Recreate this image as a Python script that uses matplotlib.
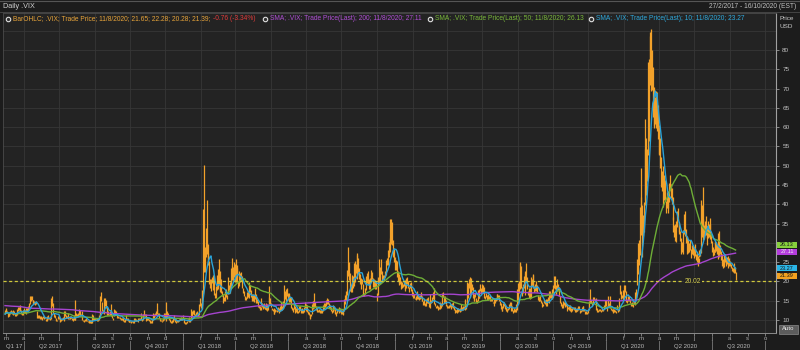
import numpy as np
import pandas as pd
import matplotlib
matplotlib.use("Agg")
import matplotlib.pyplot as plt
import matplotlib.dates as mdates
from matplotlib.lines import Line2D
from matplotlib.patches import Rectangle
from matplotlib.transforms import blended_transform_factory

plt.rcParams['font.family'] = ['Liberation Sans', 'DejaVu Sans']

# ---------------- DATA (daily .VIX) ----------------
# closes before the visible window (only used to seed the moving averages)
pre_close = [14.4, 14.7, 15.0, 14.2, 15.6, 15.5, 16.3, 15.2, 15.8, 14.0, 13.9, 13.4, 13.1, 14.2,
             14.2, 14.2, 13.6, 13.5, 13.7, 14.1, 14.6, 17.0, 21.0, 20.5, 19.4, 19.1, 19.5, 18.4, 21.2, 17.3, 25.8, 23.9, 18.8, 16.6, 15.6, 15.2,
             14.8, 15.6, 15.0, 14.5, 13.2, 12.7, 12.8, 13.6, 12.8, 12.7, 12.4, 12.0, 12.4, 12.0, 12.9, 13.1, 12.8, 12.7, 12.8, 11.9,
             12.4, 13.4, 12.9, 12.4, 11.4, 11.5, 11.5, 11.7, 11.8, 12.1, 11.8, 12.6, 12.2, 11.9, 11.4, 11.3, 12.2, 13.2, 12.4, 12.2, 13.1, 12.6, 11.9,
             13.5, 12.0, 12.0, 12.0, 12.5, 17.5, 15.2, 17.9, 18.1, 15.6, 16.1, 15.5, 13.3, 12.0, 12.3, 14.5, 12.9, 13.1, 12.4, 14.0, 13.3,
             13.6, 13.0, 13.0, 12.8, 13.5, 13.3, 15.4, 15.9, 16.7, 16.1, 16.2, 15.3, 13.7, 13.4, 13.3, 13.2, 14.2, 15.4, 16.2, 16.2, 17.1,
             18.6, 19.3, 22.1, 22.5, 18.7, 14.4, 14.4, 14.7, 14.2, 14.5, 13.4, 13.7, 14.7, 13.3, 12.8, 12.3, 12.3, 12.4, 12.3, 12.9, 13.3,
             14.1, 14.1, 12.9, 12.1, 12.2, 11.8, 11.8, 12.6, 12.6, 13.2, 12.8, 12.2, 11.7, 11.4, 11.3, 11.4, 11.4, 12.0, 12.2, 14.0, 14.0,
             12.9, 11.9, 11.7, 11.3, 11.6, 11.5, 11.3, 11.5, 10.7, 11.2, 11.2, 12.5, 11.7, 11.5, 11.8, 11.1, 10.8, 11.3, 11.9, 12.0,
             12.5, 11.8, 11.9, 11.0, 11.4, 11.3, 11.4, 11.5, 11.0, 10.9, 10.7, 12.0, 11.5, 11.6, 11.7, 11.7, 11.5]

# first month of each year block
year_first_month = {2017: 2, 2018: 1, 2019: 1, 2020: 1}
first_day = "2017-02-27"
last_day = "2020-08-11"

close_2017 = [
    [12.09, 12.92],
    [12.54, 11.81, 10.96, 11.24, 11.45, 11.86, 12.30, 11.66, 11.35, 12.30, 11.63, 11.21, 11.28, 11.34, 12.47, 12.81, 13.12, 12.96, 12.50, 11.53, 11.42, 11.54, 12.37],
    [12.38, 11.79, 12.89, 12.39, 12.87, 14.05, 15.07, 15.77, 15.96, 14.66, 14.42, 14.93, 14.15, 14.63, 10.84, 11.10, 10.85, 10.36, 10.82],
    [10.11, 10.59, 10.68, 10.46, 10.57, 9.77, 10.96, 10.21, 10.60, 10.40, 10.42, 10.65, 15.59, 14.66, 12.04, 10.93, 10.72, 10.02, 9.99, 9.81, 10.38, 10.41],
    [9.89, 9.75, 10.07, 10.45, 10.39, 10.16, 10.70, 11.46, 10.42, 10.64, 10.90, 10.38, 10.37, 10.86, 10.75, 10.48, 10.02, 9.90, 11.06, 10.03, 11.44, 11.18],
    [11.22, 11.07, 12.54, 11.19, 11.11, 10.89, 10.30, 9.90, 9.51, 9.82, 9.89, 9.79, 9.58, 9.36, 9.43, 9.43, 9.60, 10.11, 10.29, 10.26],
    [10.09, 10.28, 9.95, 10.03, 9.93, 10.96, 11.11, 16.04, 15.51, 12.33, 12.04, 11.74, 15.55, 14.26, 13.19, 11.35, 12.25, 11.28, 11.28, 11.32, 11.70, 11.22, 10.59],
    [10.13, 12.23, 11.63, 11.55, 12.12, 10.73, 10.58, 10.50, 10.44, 10.17, 10.15, 10.18, 9.78, 9.67, 9.59, 10.21, 10.17, 9.87, 9.55, 9.51],
    [9.45, 9.51, 9.63, 9.19, 9.65, 10.33, 10.08, 9.85, 9.91, 9.61, 10.31, 10.31, 10.07, 10.05, 9.97, 11.07, 11.16, 11.23, 11.30, 9.80, 10.50, 10.18],
    [10.20, 9.93, 9.14, 9.40, 9.89, 9.78, 10.50, 11.29, 11.50, 11.59, 13.13, 11.76, 11.43, 10.65, 9.73, 9.88, 9.67, 9.87, 10.03, 10.70, 11.28],
    [11.43, 11.68, 11.33, 11.02, 10.16, 9.58, 9.34, 9.34, 10.18, 10.49, 9.42, 9.53, 10.03, 9.72, 9.62, 9.90, 10.25, 10.47, 10.18, 11.04],
]
high_2017 = [
    [12.5, 13.1],
    [12.9, 12.2, 11.9, 11.9, 11.6, 12.2, 12.6, 12.3, 11.8, 12.6, 12.4, 11.7, 11.7, 11.7, 12.9, 13.4, 13.3, 13.3, 13.8, 12.6, 11.9, 11.8, 12.6],
    [13.0, 12.6, 13.0, 13.0, 13.6, 14.3, 16.1, 16.1, 16.3, 15.2, 15.2, 15.0, 14.7, 14.8, 12.3, 11.3, 11.2, 10.9, 10.9],
    [10.6, 10.7, 11.1, 11.0, 10.8, 10.2, 11.0, 10.6, 11.3, 10.6, 10.5, 10.8, 15.8, 16.3, 14.4, 11.8, 11.2, 10.5, 10.3, 10.1, 11.0, 11.2],
    [10.4, 10.0, 10.3, 10.6, 10.7, 10.5, 12.2, 12.2, 11.2, 11.1, 11.7, 11.0, 10.6, 10.9, 11.1, 10.8, 10.4, 10.4, 11.3, 10.9, 15.2, 11.9],
    [11.4, 11.8, 12.9, 12.5, 11.6, 12.3, 10.9, 10.1, 9.9, 10.2, 10.4, 10.0, 9.8, 10.0, 9.9, 9.9, 9.8, 11.4, 11.3, 10.6],
    [10.5, 10.6, 10.4, 10.4, 10.2, 11.2, 12.3, 16.1, 17.3, 14.7, 12.6, 12.2, 15.6, 15.7, 15.1, 13.3, 12.4, 12.3, 11.6, 12.3, 14.1, 11.8, 11.3],
    [10.6, 12.8, 12.6, 11.9, 12.4, 11.4, 10.9, 10.7, 10.8, 10.5, 10.4, 10.4, 10.5, 10.1, 10.2, 11.3, 10.6, 10.4, 9.9, 9.7],
    [9.7, 9.6, 9.8, 9.6, 10.1, 10.6, 10.4, 10.3, 10.1, 9.9, 10.5, 10.6, 10.4, 11.7, 10.3, 11.3, 11.4, 12.5, 11.6, 11.4, 10.8, 10.6],
    [10.6, 10.3, 9.9, 9.7, 10.2, 10.1, 11.8, 11.6, 11.9, 12.4, 14.5, 12.9, 11.9, 11.7, 10.4, 10.0, 9.7, 10.1, 10.5, 11.7, 11.8],
    [14.6, 11.8, 12.2, 11.8, 10.9, 10.2, 9.7, 10.0, 10.5, 11.2, 10.6, 9.7, 10.2, 10.1, 9.9, 10.3, 10.6, 10.7, 10.6, 11.3],
]
low_2017 = [
    [11.5, 11.8],
    [11.7, 11.7, 10.8, 11.0, 11.1, 11.4, 11.7, 11.5, 11.2, 11.4, 11.5, 10.9, 11.1, 11.2, 11.2, 12.3, 12.5, 12.2, 12.3, 11.5, 11.3, 11.3, 11.8],
    [11.9, 11.7, 11.6, 12.1, 12.2, 12.7, 14.0, 14.8, 15.2, 14.3, 14.2, 14.2, 13.9, 14.0, 10.6, 10.6, 10.6, 10.3, 10.3],
    [10.0, 10.3, 10.4, 10.2, 10.4, 9.6, 9.6, 10.1, 10.3, 10.2, 10.1, 10.3, 10.7, 13.6, 11.8, 10.8, 10.6, 10.0, 9.8, 9.6, 10.2, 10.2],
    [9.7, 9.4, 9.8, 10.1, 10.2, 10.0, 9.8, 11.0, 10.4, 10.4, 10.7, 10.3, 10.3, 10.3, 10.6, 10.4, 9.9, 9.8, 10.0, 10.0, 10.0, 10.9],
    [10.9, 11.0, 11.3, 11.1, 11.0, 10.8, 10.0, 9.7, 9.5, 9.6, 9.7, 9.6, 9.5, 9.3, 9.3, 9.2, 9.3, 9.2, 10.1, 10.1],
    [10.0, 10.2, 9.9, 9.7, 9.8, 9.9, 10.8, 11.2, 14.8, 12.3, 11.7, 11.4, 11.7, 13.7, 13.1, 11.3, 11.2, 11.2, 11.2, 11.2, 11.3, 11.1, 10.5],
    [10.0, 10.9, 11.3, 11.2, 11.4, 10.6, 10.4, 10.4, 10.3, 10.0, 10.0, 10.0, 9.7, 9.5, 9.5, 9.9, 9.9, 9.6, 9.5, 9.4],
    [9.4, 9.2, 9.4, 9.1, 9.2, 9.9, 9.8, 9.8, 9.7, 9.5, 9.9, 10.1, 9.9, 9.9, 9.8, 10.0, 10.8, 10.9, 10.9, 9.6, 10.1, 10.1],
    [9.9, 9.6, 9.1, 9.2, 9.3, 9.6, 9.9, 10.5, 11.1, 11.3, 11.9, 11.6, 11.3, 10.4, 9.6, 9.6, 9.5, 9.6, 9.7, 10.0, 10.6],
    [9.7, 10.9, 10.8, 10.9, 10.1, 9.5, 9.3, 9.2, 9.5, 10.1, 9.4, 9.3, 9.6, 9.5, 9.4, 9.6, 10.0, 10.1, 10.1, 10.3],
]

close_2018 = [
    [9.77, 9.15, 9.22, 9.22, 9.52, 10.08, 9.82, 9.88, 10.16, 11.66, 11.91, 12.22, 11.27, 11.03, 11.10, 11.47, 11.58, 11.08, 13.84, 14.79, 13.54],
    [13.47, 17.31, 37.32, 29.98, 27.73, 33.46, 29.06, 25.61, 24.97, 19.26, 19.13, 19.46, 20.60, 20.02, 18.72, 16.49, 15.80, 18.59, 19.85],
    [22.47, 19.59, 18.73, 18.36, 17.76, 16.54, 14.64, 15.78, 16.35, 17.23, 16.59, 15.80, 19.02, 18.20, 17.86, 23.34, 24.87, 21.03, 22.50, 22.87, 19.97],
    [23.62, 21.10, 20.06, 18.94, 21.49, 21.77, 20.47, 20.24, 18.49, 17.41, 16.56, 15.25, 15.60, 15.96, 16.88, 16.34, 18.02, 17.84, 16.24, 15.41, 15.93],
    [15.49, 15.97, 15.90, 14.77, 14.75, 14.71, 13.42, 13.23, 12.65, 12.93, 14.63, 13.42, 13.43, 13.42, 13.08, 13.22, 12.58, 12.53, 13.22, 17.02, 14.94, 15.43],
    [13.46, 12.74, 12.40, 11.64, 12.13, 12.18, 12.35, 12.34, 12.94, 12.12, 11.98, 12.31, 13.35, 12.79, 14.64, 13.77, 17.33, 15.92, 17.91, 16.85, 16.09],
    [15.60, 16.14, 14.97, 13.37, 12.69, 12.64, 13.63, 12.58, 12.18, 12.83, 12.06, 12.10, 12.87, 12.86, 12.62, 12.41, 12.29, 12.14, 13.03, 14.26, 12.83],
    [13.15, 12.19, 11.64, 11.27, 10.93, 10.85, 11.27, 13.16, 14.78, 13.31, 14.64, 13.45, 12.64, 12.49, 12.86, 12.25, 12.41, 11.99, 12.16, 12.50, 12.25, 13.53, 12.86],
    [12.91, 13.91, 14.65, 14.88, 14.16, 13.22, 13.14, 12.37, 12.07, 13.68, 12.79, 11.75, 11.80, 11.68, 12.20, 12.42, 12.89, 12.41, 12.12],
    [12.00, 12.05, 11.61, 14.22, 14.82, 15.69, 15.95, 22.96, 24.98, 21.31, 21.30, 17.62, 17.40, 20.06, 19.89, 19.64, 20.71, 25.23, 24.22, 24.16, 24.70, 23.35, 21.23],
    [19.34, 19.51, 19.96, 19.91, 16.36, 16.72, 17.36, 20.45, 20.02, 21.25, 19.98, 18.14, 20.10, 22.48, 20.80, 21.52, 18.90, 19.02, 18.49, 18.79, 18.07],
    [16.44, 20.74, 21.19, 23.23, 22.64, 21.76, 21.46, 20.65, 21.63, 24.52, 25.58, 25.58, 28.38, 30.11, 36.07, 30.41, 29.96, 28.34, 25.42],
]
high_2018 = [
    [10.4, 9.7, 9.5, 9.4, 9.8, 10.3, 10.8, 10.1, 10.3, 12.8, 12.3, 12.5, 12.6, 11.6, 11.4, 12.1, 12.3, 11.6, 14.0, 15.8, 14.3],
    [14.3, 17.8, 38.8, 50.3, 28.9, 33.8, 41.1, 29.6, 27.4, 25.2, 20.5, 20.7, 21.1, 21.6, 21.6, 18.2, 17.1, 18.7, 21.6],
    [23.2, 25.7, 22.6, 19.0, 20.6, 17.4, 16.6, 16.0, 17.6, 17.9, 17.4, 16.5, 21.1, 19.0, 19.7, 23.5, 26.1, 24.0, 23.7, 25.0, 24.6],
    [25.7, 23.4, 24.2, 20.0, 22.6, 22.2, 22.4, 21.3, 20.2, 18.3, 17.4, 16.1, 15.9, 16.4, 17.2, 17.4, 19.8, 19.0, 17.8, 16.6, 16.5],
    [16.8, 16.5, 18.2, 16.8, 15.1, 15.3, 14.9, 13.9, 13.5, 13.3, 15.6, 14.4, 14.0, 14.4, 13.4, 13.7, 14.5, 14.2, 13.8, 18.8, 16.0, 15.7],
    [14.4, 13.2, 12.9, 12.4, 13.1, 12.7, 12.6, 12.6, 13.4, 12.9, 13.2, 13.5, 14.6, 13.5, 15.0, 14.6, 19.0, 17.4, 18.0, 18.3, 16.9],
    [17.1, 16.7, 15.9, 15.9, 13.4, 13.0, 14.4, 13.5, 12.6, 13.0, 13.2, 12.4, 13.5, 13.7, 13.5, 12.7, 13.0, 12.5, 13.4, 14.6, 14.2],
    [13.6, 13.8, 12.3, 12.0, 11.4, 11.3, 11.6, 14.0, 15.0, 15.0, 16.9, 14.6, 13.6, 12.7, 13.0, 12.6, 12.9, 12.6, 12.5, 12.6, 12.6, 13.9, 14.3],
    [13.9, 14.4, 15.2, 15.6, 15.5, 14.5, 13.9, 13.3, 12.5, 13.8, 13.7, 12.7, 12.5, 12.1, 12.9, 12.9, 13.3, 13.2, 12.5],
    [12.6, 12.8, 12.0, 15.4, 16.5, 17.4, 16.7, 23.0, 28.8, 25.0, 22.2, 21.0, 19.1, 21.7, 21.5, 21.1, 24.7, 25.2, 24.6, 27.4, 26.9, 26.0, 23.4],
    [21.9, 20.8, 20.5, 20.6, 19.2, 17.1, 18.4, 20.9, 21.3, 22.1, 22.6, 20.5, 20.8, 22.9, 21.6, 22.4, 20.9, 20.5, 20.4, 19.7, 19.3],
    [17.0, 21.0, 25.9, 23.8, 25.9, 22.6, 21.6, 21.6, 22.7, 25.5, 26.1, 28.0, 30.3, 31.2, 36.2, 36.1, 35.4, 30.6, 28.5],
]
low_2018 = [
    [9.5, 9.1, 9.0, 8.9, 9.1, 9.6, 9.5, 9.5, 9.8, 10.2, 10.7, 11.5, 11.3, 10.9, 10.9, 11.0, 11.4, 10.9, 11.2, 13.7, 13.0],
    [12.8, 13.9, 16.8, 22.4, 22.3, 26.3, 27.2, 24.7, 24.3, 19.2, 18.2, 17.5, 19.6, 17.7, 17.9, 16.4, 15.8, 15.6, 17.8],
    [18.1, 19.3, 17.3, 17.4, 17.0, 16.3, 14.5, 14.8, 15.0, 16.1, 16.0, 15.3, 16.6, 17.8, 17.0, 18.4, 21.3, 20.3, 19.9, 21.0, 19.8],
    [19.8, 21.0, 19.8, 18.3, 18.8, 19.8, 20.1, 20.2, 18.2, 17.1, 16.1, 15.2, 15.2, 15.6, 15.8, 16.0, 15.8, 17.3, 16.0, 15.2, 15.0],
    [15.0, 14.6, 15.3, 14.6, 14.5, 14.3, 13.3, 13.1, 12.6, 12.6, 13.7, 13.3, 12.9, 13.0, 12.8, 12.7, 12.5, 12.3, 12.5, 14.0, 14.4, 14.0],
    [13.3, 12.5, 12.3, 11.6, 11.6, 12.0, 12.2, 12.1, 12.2, 12.0, 11.7, 12.2, 12.6, 12.6, 13.2, 13.6, 14.4, 15.3, 15.0, 16.2, 15.2],
    [15.4, 14.6, 14.6, 13.0, 12.5, 12.1, 12.8, 12.4, 11.9, 12.1, 11.9, 11.8, 12.1, 12.6, 12.6, 11.9, 11.9, 11.9, 12.0, 13.0, 12.7],
    [12.3, 12.1, 11.6, 11.2, 10.2, 10.6, 10.9, 11.6, 12.9, 13.2, 13.1, 13.4, 12.5, 12.3, 12.1, 12.0, 12.1, 11.9, 11.8, 12.1, 11.9, 12.2, 12.8],
    [12.7, 13.3, 13.6, 14.1, 14.0, 13.2, 12.9, 12.3, 11.8, 12.0, 12.5, 11.7, 11.5, 11.1, 11.9, 12.2, 11.9, 12.0, 11.6],
    [11.6, 11.6, 11.3, 12.4, 14.1, 15.2, 15.3, 16.4, 21.3, 20.3, 20.3, 17.5, 17.3, 17.3, 18.3, 18.9, 19.5, 19.8, 22.1, 21.7, 20.5, 22.1, 20.7],
    [19.2, 17.9, 19.5, 19.2, 16.3, 16.2, 16.6, 17.7, 19.3, 19.5, 19.4, 18.0, 18.1, 20.0, 20.3, 20.6, 18.6, 18.5, 18.1, 18.4, 18.0],
    [15.0, 16.4, 19.6, 19.4, 21.9, 19.9, 20.5, 20.2, 21.1, 21.6, 24.3, 24.3, 26.2, 27.6, 29.6, 29.6, 29.3, 26.4, 25.0],
]

close_2019 = [
    [23.22, 25.45, 21.38, 21.40, 20.47, 19.98, 19.50, 18.19, 19.07, 18.60, 19.04, 18.06, 17.80, 20.80, 19.52, 18.89, 17.42, 18.87, 19.13, 17.66, 16.57],
    [16.14, 15.73, 15.57, 15.38, 16.37, 15.72, 15.97, 15.43, 16.22, 16.22, 14.91, 14.88, 14.02, 14.46, 13.51, 14.85, 14.85, 14.70, 14.78],
    [13.57, 14.63, 14.74, 15.74, 16.59, 16.05, 14.33, 13.77, 13.41, 13.50, 12.88, 13.10, 13.56, 13.91, 13.63, 16.48, 16.33, 14.68, 15.15, 14.43, 13.71],
    [13.40, 13.36, 13.74, 13.58, 12.82, 13.18, 14.28, 13.30, 13.02, 12.01, 12.32, 12.18, 12.60, 12.09, 12.42, 12.28, 13.14, 13.25, 12.73, 13.11, 13.12],
    [14.80, 14.42, 12.87, 15.44, 19.32, 19.40, 19.10, 16.04, 20.55, 18.06, 16.44, 15.29, 15.96, 16.31, 14.95, 14.75, 16.92, 15.85, 17.50, 17.90, 17.30, 18.71],
    [18.86, 16.97, 16.09, 15.93, 16.30, 15.94, 15.99, 15.91, 15.82, 15.28, 15.35, 15.15, 14.33, 14.75, 15.40, 15.26, 16.28, 16.21, 15.82, 15.08],
    [14.06, 12.93, 12.57, 13.28, 13.96, 14.10, 13.03, 12.93, 12.39, 12.68, 12.86, 13.97, 13.53, 14.45, 13.53, 12.61, 12.07, 12.74, 12.16, 12.83, 13.94, 16.12],
    [17.87, 17.61, 24.59, 20.17, 19.49, 16.91, 17.97, 21.09, 17.52, 22.10, 21.18, 18.47, 16.88, 17.50, 15.80, 16.68, 19.87, 19.32, 20.31, 19.35, 17.88, 18.98],
    [19.66, 17.33, 15.82, 15.00, 15.27, 15.20, 14.61, 14.22, 13.74, 14.67, 14.44, 13.95, 14.05, 15.32, 14.91, 17.05, 15.96, 16.07, 17.22, 16.24],
    [18.56, 20.56, 19.12, 17.04, 17.86, 20.28, 18.64, 17.57, 15.58, 14.57, 13.54, 13.68, 13.79, 14.25, 14.00, 14.46, 14.01, 13.71, 12.65, 13.11, 13.20, 12.33, 13.22],
    [12.30, 12.83, 13.10, 12.62, 12.73, 12.07, 12.69, 12.68, 13.00, 13.05, 12.05, 12.46, 12.86, 12.78, 12.78, 12.34, 11.87, 11.54, 11.75, 12.62],
    [14.91, 15.96, 14.80, 14.52, 13.62, 15.86, 15.68, 14.99, 13.94, 12.63, 12.14, 12.29, 12.58, 12.50, 12.51, 12.61, 12.67, 12.65, 13.43, 14.82, 13.78],
]
high_2019 = [
    [26.2, 25.5, 25.4, 22.8, 22.0, 21.5, 21.1, 20.0, 19.9, 19.4, 19.9, 20.4, 18.5, 20.8, 21.2, 20.2, 18.5, 19.6, 19.6, 19.7, 18.0],
    [17.2, 16.6, 15.8, 16.2, 17.6, 17.1, 16.3, 16.3, 16.4, 17.2, 16.2, 15.8, 14.8, 15.3, 14.3, 15.3, 15.7, 15.9, 15.2],
    [14.6, 16.6, 15.1, 15.9, 17.2, 18.2, 16.0, 14.3, 13.7, 13.8, 13.5, 13.4, 14.2, 14.6, 14.3, 17.1, 17.3, 16.1, 16.1, 15.2, 14.2],
    [13.9, 13.5, 13.8, 14.0, 13.3, 14.0, 14.5, 14.6, 13.7, 12.8, 12.6, 12.6, 13.0, 13.0, 12.9, 13.0, 13.3, 14.0, 13.4, 13.5, 13.7],
    [15.1, 15.4, 14.2, 19.9, 19.6, 20.5, 21.0, 20.6, 20.8, 19.4, 18.5, 16.1, 16.7, 17.1, 15.6, 15.2, 17.7, 16.9, 17.9, 19.2, 18.4, 19.2],
    [19.0, 18.6, 17.3, 16.3, 16.9, 16.4, 16.6, 16.2, 16.4, 15.9, 15.4, 15.6, 14.6, 15.4, 15.5, 15.5, 16.6, 16.7, 16.4, 16.5],
    [14.8, 14.3, 12.9, 13.7, 14.4, 14.6, 14.2, 13.3, 12.9, 12.9, 13.2, 14.2, 14.6, 14.6, 14.3, 13.5, 12.5, 13.1, 12.9, 13.0, 14.1, 17.9],
    [19.5, 20.0, 25.0, 24.8, 24.1, 18.6, 19.3, 21.5, 22.2, 22.6, 24.8, 21.1, 17.6, 18.2, 17.0, 18.2, 21.0, 20.6, 21.6, 21.8, 18.9, 19.3],
    [20.2, 19.1, 16.4, 15.9, 16.0, 16.2, 15.1, 14.6, 14.1, 15.1, 15.1, 15.5, 14.3, 15.4, 16.0, 17.5, 17.5, 16.8, 17.9, 16.9],
    [19.0, 21.5, 21.5, 19.1, 18.4, 20.5, 19.4, 18.6, 16.2, 15.6, 14.7, 14.1, 14.1, 14.9, 14.6, 14.7, 14.4, 14.0, 14.0, 13.3, 13.5, 13.7, 13.9],
    [13.2, 13.0, 13.3, 13.4, 13.3, 12.8, 13.1, 12.9, 13.6, 13.6, 12.6, 12.6, 13.3, 13.6, 13.5, 12.9, 12.2, 12.2, 12.0, 12.7],
    [15.0, 17.9, 15.8, 15.1, 14.6, 15.9, 16.0, 15.4, 15.6, 14.2, 13.1, 12.6, 12.8, 12.9, 12.6, 12.7, 13.1, 12.8, 13.8, 15.1, 15.1],
]
low_2019 = [
    [22.9, 23.0, 21.0, 20.2, 19.5, 19.1, 19.3, 18.1, 18.3, 18.5, 18.7, 17.9, 17.4, 18.4, 19.2, 18.4, 17.3, 18.2, 18.5, 17.5, 16.3],
    [15.7, 15.6, 15.3, 15.1, 15.5, 15.7, 15.5, 15.2, 15.3, 15.6, 14.8, 14.8, 13.9, 13.8, 13.5, 13.5, 14.3, 14.3, 14.3],
    [13.3, 13.0, 14.4, 14.6, 15.4, 15.7, 14.2, 13.6, 13.1, 13.1, 12.6, 12.8, 12.8, 13.4, 13.1, 13.5, 15.9, 14.4, 14.4, 14.2, 13.5],
    [13.1, 13.1, 13.2, 13.4, 12.8, 13.0, 13.4, 13.2, 12.6, 11.9, 12.0, 12.0, 11.9, 12.0, 12.3, 12.1, 12.4, 13.0, 12.6, 12.6, 12.9],
    [12.6, 14.0, 12.7, 14.2, 15.8, 18.4, 18.0, 15.9, 16.9, 17.8, 15.7, 14.9, 14.9, 15.9, 14.7, 14.4, 14.9, 15.6, 15.7, 17.4, 16.8, 17.2],
    [17.0, 16.8, 15.7, 15.5, 15.9, 15.1, 15.2, 15.4, 14.9, 15.1, 14.9, 14.9, 14.3, 13.6, 14.4, 15.0, 15.1, 15.8, 15.6, 14.9],
    [13.8, 12.9, 12.2, 12.3, 13.2, 13.6, 12.9, 12.4, 12.0, 12.2, 12.6, 12.7, 13.4, 12.4, 13.4, 12.2, 11.7, 12.0, 12.0, 12.1, 13.1, 12.6],
    [14.5, 16.9, 17.9, 19.3, 18.4, 16.3, 16.9, 18.2, 16.4, 18.5, 20.0, 18.1, 16.5, 16.7, 15.6, 15.3, 15.8, 18.7, 18.3, 18.7, 17.3, 17.5],
    [17.4, 17.3, 15.1, 14.8, 15.0, 14.9, 14.4, 13.4, 13.6, 14.4, 14.0, 13.9, 13.6, 13.7, 14.8, 14.5, 15.8, 15.6, 15.5, 16.1],
    [16.0, 18.4, 17.9, 16.8, 16.8, 17.5, 17.7, 16.3, 15.4, 14.5, 13.5, 13.1, 13.0, 13.7, 13.9, 13.4, 13.6, 13.3, 12.4, 12.8, 12.6, 12.3, 12.6],
    [12.1, 12.4, 12.8, 12.5, 12.0, 12.0, 12.4, 12.3, 12.6, 12.9, 11.9, 12.0, 12.2, 12.4, 12.6, 12.2, 11.6, 11.5, 11.5, 11.9],
    [12.6, 14.5, 14.4, 14.3, 13.6, 14.4, 15.2, 14.8, 13.5, 12.6, 12.0, 12.1, 12.3, 12.3, 12.1, 12.4, 12.5, 12.3, 12.7, 13.3, 13.6],
]

close_2020 = [
    [12.47, 14.02, 13.85, 13.79, 13.45, 12.54, 12.56, 12.32, 12.39, 12.42, 12.32, 12.10, 12.85, 12.91, 12.98, 14.56, 18.23, 16.28, 16.39, 15.49, 18.84],
    [17.97, 16.05, 15.15, 14.96, 15.47, 15.04, 15.18, 13.74, 14.15, 13.68, 14.83, 14.38, 15.56, 17.08, 25.03, 27.85, 27.56, 39.16, 40.11],
    [33.42, 36.82, 31.99, 39.62, 41.94, 54.46, 47.30, 53.90, 75.47, 57.83, 82.69, 75.91, 76.45, 72.00, 66.04, 61.59, 61.67, 63.95, 61.00, 65.54, 57.08, 53.54],
    [57.06, 50.91, 46.80, 45.24, 46.70, 43.35, 41.67, 41.17, 37.76, 40.84, 40.11, 38.15, 43.83, 45.41, 41.98, 41.38, 35.93, 33.29, 33.57, 31.23, 34.15],
    [37.19, 35.97, 33.61, 34.12, 31.44, 27.98, 27.57, 33.04, 35.28, 32.61, 31.89, 29.30, 30.53, 27.99, 29.53, 28.16, 28.01, 27.62, 28.59, 27.51],
    [28.23, 26.84, 25.66, 25.81, 24.52, 25.81, 27.57, 27.57, 40.79, 36.09, 34.40, 33.67, 33.47, 32.94, 35.12, 31.77, 31.37, 33.84, 32.22, 34.73, 31.78, 30.43],
    [28.62, 27.68, 27.94, 29.43, 28.08, 29.26, 27.29, 32.19, 29.52, 27.76, 28.00, 25.68, 24.46, 24.84, 24.32, 26.08, 25.84, 24.74, 25.44, 24.10, 24.76, 24.46],
    [24.28, 23.76, 22.99, 22.65, 22.21, 22.13, 21.39],
]
high_2020 = [
    [13.7, 16.2, 14.9, 14.3, 16.2, 13.0, 12.8, 12.8, 12.9, 12.9, 12.5, 12.3, 13.8, 12.9, 13.5, 15.8, 19.0, 17.6, 16.5, 17.7, 19.0],
    [19.0, 17.6, 16.5, 15.2, 16.1, 16.3, 15.5, 14.4, 14.7, 14.5, 15.5, 14.8, 17.2, 18.0, 25.9, 29.9, 30.8, 39.2, 49.5],
    [41.8, 39.9, 37.1, 40.6, 54.4, 62.1, 57.3, 54.4, 76.8, 77.6, 83.6, 84.8, 85.5, 79.9, 75.5, 70.4, 68.3, 67.9, 69.4, 69.1, 65.8, 58.8],
    [60.6, 57.2, 52.3, 48.6, 49.9, 47.5, 44.9, 46.3, 40.9, 43.2, 43.5, 41.0, 45.4, 47.7, 45.3, 44.2, 42.0, 36.6, 34.6, 34.8, 35.6],
    [38.3, 38.9, 35.0, 35.5, 33.0, 31.2, 30.3, 33.3, 37.5, 38.2, 33.5, 31.7, 30.9, 29.9, 29.9, 30.8, 28.5, 29.3, 29.3, 28.8],
    [29.8, 28.3, 27.1, 27.7, 26.7, 26.0, 28.0, 28.3, 41.1, 39.8, 44.4, 36.1, 34.6, 35.6, 36.9, 34.1, 32.3, 35.6, 35.0, 36.5, 34.8, 32.3],
    [30.5, 29.0, 28.5, 30.2, 30.5, 30.3, 29.5, 32.6, 33.0, 29.3, 29.3, 27.8, 27.0, 25.7, 25.5, 27.2, 27.1, 26.4, 26.3, 26.1, 26.6, 26.0],
    [25.3, 24.5, 23.6, 23.4, 24.7, 23.7, 22.3],
]
low_2020 = [
    [12.4, 13.6, 13.5, 13.6, 13.1, 12.5, 12.2, 12.1, 11.8, 12.0, 12.1, 11.9, 12.7, 12.1, 12.3, 12.9, 16.8, 15.3, 15.6, 15.0, 15.2],
    [17.3, 15.9, 14.6, 14.5, 15.0, 14.9, 14.5, 13.7, 13.6, 13.4, 14.6, 14.0, 13.9, 15.8, 19.1, 21.9, 24.2, 26.8, 33.4],
    [32.1, 26.4, 31.8, 32.8, 39.9, 41.2, 42.4, 46.0, 52.8, 56.5, 71.0, 72.5, 69.3, 69.5, 62.6, 60.2, 59.7, 60.9, 59.7, 59.0, 56.8, 53.0],
    [52.8, 49.5, 44.4, 43.4, 39.3, 43.0, 41.1, 40.9, 37.7, 38.9, 39.0, 37.6, 40.7, 43.8, 41.5, 40.0, 35.8, 32.9, 31.5, 30.5, 30.3],
    [34.0, 35.9, 32.8, 32.4, 30.5, 27.0, 27.5, 27.1, 32.2, 31.8, 29.9, 27.1, 27.9, 27.3, 27.7, 28.0, 26.1, 27.0, 26.9, 26.0],
    [27.5, 26.6, 25.5, 25.0, 23.9, 24.8, 26.2, 26.6, 27.4, 31.5, 32.9, 30.7, 31.0, 31.9, 32.0, 31.3, 29.4, 31.2, 31.6, 32.3, 31.1, 29.9],
    [27.6, 26.7, 26.9, 27.6, 27.6, 27.8, 27.0, 25.8, 28.8, 26.2, 27.0, 25.5, 24.1, 23.4, 23.8, 24.4, 25.0, 24.1, 24.6, 23.5, 24.2, 23.9],
    [23.9, 23.4, 22.6, 22.5, 22.2, 22.1, 20.3],
]

y_ticks = list(range(10, 85, 5))
hidden_y_ticks = [30]          # covered by the value flags in the reference
month_letters = ['j', 'f', 'm', 'a', 'm', 'j', 'j', 'a', 's', 'o', 'n', 'd']
ref_level = 20.02
legend_texts = [
    ("BarOHLC; .VIX; Trade Price; 11/8/2020; 21.65; 22.28; 20.28; 21.39;", "#e9a53a"),
    ("-0.76 (-3.34%)", "#e23b3b"),
    ("SMA; .VIX; Trade Price(Last); 200; 11/8/2020; 27.11", "#b04fd6"),
    ("SMA; .VIX; Trade Price(Last); 50; 11/8/2020; 26.13", "#79b83a"),
    ("SMA; .VIX; Trade Price(Last); 10; 11/8/2020; 23.27", "#2fa9dc"),
]
# value flags on the price axis: text, pixel row of the flag, colours
last_labels = [("26.13", 245, "#86cf3c", "#1a1a1a"),
               ("27.11", 251.5, "#b43ddc", "#f0f0f0"),
               ("23.27", 268, "#2ab5e6", "#1a1a1a"),
               ("21.39", 275.5, "#f0a020", "#1a1a1a")]

# ---------------- build series ----------------
xs, cs, hs, ls = [], [], [], []
t0 = pd.Timestamp(first_day)
t_end = pd.Timestamp(last_day) + pd.Timedelta(days=1)
for year, blocks in [(2017, (close_2017, high_2017, low_2017)),
                     (2018, (close_2018, high_2018, low_2018)),
                     (2019, (close_2019, high_2019, low_2019)),
                     (2020, (close_2020, high_2020, low_2020))]:
    cl, hl, ll = blocks
    m0 = year_first_month[year]
    for k in range(len(cl)):
        ms = pd.Timestamp(year=year, month=m0 + k, day=1)
        me = ms + pd.offsets.MonthBegin(1)
        start = max(ms, t0)
        end = min(me, t_end)
        n = min(len(cl[k]), len(hl[k]), len(ll[k]))
        span = (end - start) / n
        for i in range(n):
            xs.append(start + span * (i + 0.5))
            c = cl[k][i]
            cs.append(c)
            hs.append(max(hl[k][i], c))
            ls.append(min(ll[k][i], c))

xs = mdates.date2num(pd.DatetimeIndex(xs).to_pydatetime())
cs = np.array(cs); hs = np.array(hs); ls = np.array(ls)
allc = pd.Series(list(pre_close) + list(cs))
npre = len(pre_close)
sma200 = allc.rolling(200).mean().values[npre:]
sma50 = allc.rolling(50).mean().values[npre:]
sma10 = allc.rolling(10).mean().values[npre:]

# ---------------- figure ----------------
W, H = 800, 350
BG = '#1c1c1c'
PLOT_BG = '#232323'
fig = plt.figure(figsize=(8, 3.5), dpi=100, facecolor=BG)

def fx(px):
    return px / W

def fy(py):
    return 1 - py / H

L, R, T, B = 3, 776, 13, 333
ax = fig.add_axes([fx(L), fy(B), fx(R) - fx(L), fy(T) - fy(B)])
ax.set_facecolor(PLOT_BG)

x_left = mdates.date2num(pd.Timestamp('2017-02-24'))
x_right = mdates.date2num(pd.Timestamp('2020-10-20'))
ax.set_xlim(x_left, x_right)
ax.set_ylim(6.6, 89.6)

# grid
grid_c = '#373737'
for yv in range(10, 90, 5):
    ax.axhline(yv, color=grid_c, lw=0.6, zorder=0)
month_starts = pd.date_range('2017-03-01', '2020-10-01', freq='MS')
for d in month_starts:
    if d.month % 2 == 0:
        ax.axvline(mdates.date2num(d), color=grid_c, lw=0.6, zorder=0)

# bars
ax.vlines(xs, ls, hs, color='#f2a12a', lw=0.9, zorder=2)
# moving averages
ax.plot(xs, sma200, color='#a544cf', lw=1.0, zorder=3)
ax.plot(xs, sma50, color='#6eae37', lw=1.0, zorder=3)
ax.plot(xs, sma10, color='#2aa3d8', lw=1.0, zorder=3)

# reference line
ax.axhline(ref_level, color='#cfc83c', lw=0.9, ls=(0, (2.5, 2)), zorder=4)
trans_xa = blended_transform_factory(ax.transAxes, ax.transData)
ax.text((693 - L) / (R - L), ref_level, f"{ref_level:.2f}", transform=trans_xa,
        ha='center', va='center', fontsize=4.8, color='#d8d050', zorder=5,
        bbox=dict(facecolor=PLOT_BG, edgecolor='none', pad=0.6))

# spines
for s in ['left', 'top']:
    ax.spines[s].set_color('#4a4a4a')
    ax.spines[s].set_linewidth(0.6)
ax.spines['right'].set_color('#a0a0a0')
ax.spines['right'].set_linewidth(0.8)
ax.spines['bottom'].set_color('#8a8a8a')
ax.spines['bottom'].set_linewidth(0.7)

# y axis on the right
ax.yaxis.tick_right()
ax.set_yticks(y_ticks)
ax.set_yticklabels(['' if v in hidden_y_ticks else str(v) for v in y_ticks])
ax.tick_params(axis='y', colors='#9a9a9a', labelcolor='#c0c0c0', labelsize=4.6,
               length=2.5, width=0.6, pad=2)

# x axis month letters
ax.set_xticks(mdates.date2num(month_starts.to_pydatetime()))
ax.set_xticklabels([month_letters[d.month - 1] for d in month_starts])
ax.tick_params(axis='x', colors='#8a8a8a', labelcolor='#b0b0b0', labelsize=4.3,
               length=2, width=0.6, pad=0.5)

# quarter labels and separators
trans_dx = blended_transform_factory(ax.transData, ax.transAxes)
ph = B - T
q_starts = pd.date_range('2017-01-01', '2020-10-01', freq='QS')
for qs in q_starts:
    qe = qs + pd.offsets.QuarterBegin(1, startingMonth=1)
    a = max(mdates.date2num(qs), x_left)
    b = min(mdates.date2num(qe), x_right)
    xq = mdates.date2num(qs)
    if x_left < xq < x_right:
        ax.plot([xq, xq], [-(341 - B) / ph, -(350 - B) / ph], transform=trans_dx,
                color='#7a7a7a', lw=0.6, clip_on=False)
    if b - a < 25:
        continue
    q = (qs.month - 1) // 3 + 1
    if qs.year == 2017 and q == 1:
        ax.text(0.004, -(346.5 - B) / ph, "Q1 17", transform=ax.transAxes, ha='left',
                va='center', fontsize=4.3, color='#b8b8b8', clip_on=False)
    else:
        ax.text((a + b) / 2, -(346.5 - B) / ph, f"Q{q} {qs.year}", transform=trans_dx,
                ha='center', va='center', fontsize=4.3, color='#b8b8b8', clip_on=False)

# value flags at right of the price axis
for txt, py, bg, fg in last_labels:
    fig.add_artist(Rectangle((fx(777), fy(py + 3)), fx(20), 6 / H, facecolor=bg,
                             edgecolor='none', zorder=6))
    fig.text(fx(787), fy(py), txt, ha='center', va='center', fontsize=4.0, color=fg,
             zorder=7)

# header
fig.add_artist(Line2D([0, 1], [fy(1), fy(1)], color='#555555', lw=0.8))
fig.text(fx(3), fy(6.5), "Daily .VIX", color='#d0d0d0', fontsize=5.2, va='center', ha='left')
fig.text(fx(796), fy(6.5), "27/2/2017 - 16/10/2020 (EST)", color='#c0c0c0', fontsize=4.8,
         va='center', ha='right')
fig.add_artist(Line2D([0, 1], [fy(12), fy(12)], color='#4a4a4a', lw=0.6))

# legend row
legend_x = [13, 213, 270, 435, 596]
icon_x = [8, None, 265, 430, 591]
for (txt, col), lx, ix in zip(legend_texts, legend_x, icon_x):
    if ix is not None:
        fig.add_artist(Line2D([fx(ix)], [fy(18.5)], marker='o', ms=3.2, mfc='#303030',
                              mec='#e0e0e0', mew=0.8, ls='none'))
    fig.text(fx(lx), fy(18.5), txt, color=col, fontsize=4.75, va='center', ha='left')

# axis unit + auto button
fig.text(fx(780), fy(19), "Price", color='#c8c8c8', fontsize=4.6, va='center', ha='left')
fig.text(fx(780), fy(26), "USD", color='#c8c8c8', fontsize=4.6, va='center', ha='left')
fig.add_artist(Rectangle((fx(778.5), fy(333.5)), fx(19.5), 9 / H, facecolor='#5c5c5c',
                         edgecolor='#8a8a8a', lw=0.5))
fig.text(fx(788), fy(329), "Auto", color='#e8e8e8', fontsize=4.3, va='center', ha='center')

fig.savefig('out.png', dpi=100, facecolor=BG)
